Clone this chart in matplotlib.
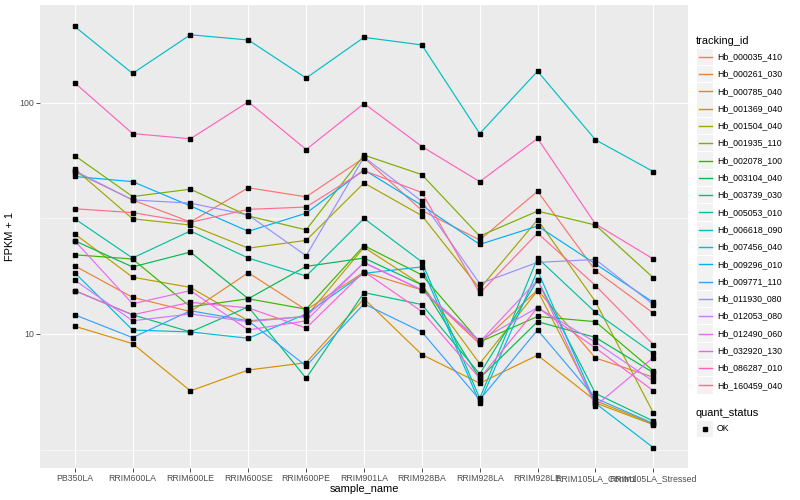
import numpy as np
import matplotlib
matplotlib.use('Agg')
import matplotlib.pyplot as plt
from matplotlib.patches import Rectangle

plt.rcParams['font.family'] = ['Liberation Sans', 'DejaVu Sans']

samples = ['PB350LA', 'RRIM600LA', 'RRIM600LE', 'RRIM600SE', 'RRIM600PE', 'RRIM901LA',
           'RRIM928BA', 'RRIM928LA', 'RRIM928LE', 'RRIM105LA_Control', 'RRIM105LA_Stressed']

# FPKM + 1, one list per gene
hb_000035_410 = [50.3, 38.0, 30.5, 42.9, 39.2, 57.8, 34.2, 25.5, 41.4, 18.8, 12.3]
hb_000261_030 = [19.7, 14.4, 12.5, 18.4, 12.7, 18.5, 15.5, 9.05, 15.5, 7.87, 6.50]
hb_000785_040 = [10.8, 9.08, 5.67, 6.98, 7.51, 14.2, 8.14, 6.12, 8.09, 5.14, 4.08]
hb_001369_040 = [27.1, 17.6, 15.9, 11.4, 11.9, 23.7, 16.3, 7.44, 15.4, 5.03, 4.05]
hb_001504_040 = [51.8, 31.5, 29.6, 23.5, 25.4, 45.0, 32.5, 15.7, 31.2, 13.8, 4.56]
hb_001935_110 = [59.1, 39.3, 42.3, 32.4, 28.2, 59.4, 48.9, 26.5, 34.0, 29.6, 17.5]
hb_002078_100 = [22.0, 21.1, 13.1, 14.2, 12.8, 24.1, 18.0, 9.23, 11.9, 11.3, 6.92]
hb_003104_040 = [25.3, 19.5, 22.6, 14.2, 19.6, 21.3, 16.3, 6.43, 11.3, 9.66, 6.80]
hb_003739_030 = [15.4, 12.1, 10.2, 13.1, 6.43, 15.1, 13.4, 6.71, 17.1, 5.53, 4.20]
hb_005053_010 = [31.5, 21.3, 27.9, 21.3, 17.8, 31.6, 20.5, 5.26, 21.3, 12.4, 8.23]
hb_006618_090 = [214, 134, 197, 187, 128, 192, 178, 73.6, 137, 69.2, 50.4]
hb_007456_040 = [18.4, 10.4, 10.2, 9.58, 12.2, 18.3, 19.5, 5.03, 18.8, 5.01, 3.22]
hb_009296_010 = [48.0, 45.6, 35.8, 27.8, 33.3, 51.3, 36.0, 24.4, 29.3, 20.1, 13.7]
hb_009771_110 = [12.1, 9.64, 12.6, 11.4, 7.27, 13.5, 10.2, 5.19, 10.4, 5.27, 4.10]
hb_011930_080 = [50.8, 38.0, 36.8, 32.7, 21.8, 58.2, 37.5, 16.5, 20.4, 21.0, 13.4]
hb_012053_080 = [17.1, 11.4, 12.2, 11.3, 11.9, 20.3, 15.5, 9.37, 13.0, 9.21, 6.24]
hb_012490_060 = [25.3, 13.5, 15.4, 10.4, 11.4, 20.4, 15.5, 9.23, 17.1, 4.88, 7.90]
hb_032920_130 = [15.4, 12.1, 13.7, 12.96, 10.6, 18.6, 12.5, 6.43, 13.0, 8.7, 5.68]
hb_086287_010 = [122, 73.6, 69.9, 101, 62.8, 99.3, 64.7, 45.6, 70.1, 29.9, 21.1]
hb_160459_040 = [34.8, 33.5, 30.4, 34.6, 35.4, 50.9, 40.9, 15.0, 27.3, 16.2, 9.0]

ids = ['Hb_000035_410', 'Hb_000261_030', 'Hb_000785_040', 'Hb_001369_040', 'Hb_001504_040',
       'Hb_001935_110', 'Hb_002078_100', 'Hb_003104_040', 'Hb_003739_030', 'Hb_005053_010',
       'Hb_006618_090', 'Hb_007456_040', 'Hb_009296_010', 'Hb_009771_110', 'Hb_011930_080',
       'Hb_012053_080', 'Hb_012490_060', 'Hb_032920_130', 'Hb_086287_010', 'Hb_160459_040']
series = [hb_000035_410, hb_000261_030, hb_000785_040, hb_001369_040, hb_001504_040,
          hb_001935_110, hb_002078_100, hb_003104_040, hb_003739_030, hb_005053_010,
          hb_006618_090, hb_007456_040, hb_009296_010, hb_009771_110, hb_011930_080,
          hb_012053_080, hb_012490_060, hb_032920_130, hb_086287_010, hb_160459_040]

# ggplot default hue palette for 20 levels
colores = ['#F8766D', '#EA8331', '#D89000', '#C09B00', '#A3A500', '#7CAE00', '#39B600',
           '#00BB4E', '#00BF7D', '#00C1A3', '#00BFC4', '#00BAE0', '#00B0F6', '#35A2FF',
           '#9590FF', '#C77CFF', '#E76BF3', '#FA62DB', '#FF62BC', '#FF6C91']

fig = plt.figure(figsize=(8, 5), dpi=100)
fig.set_facecolor('white')
ax = fig.add_axes([0.05, 0.064, 0.81, 0.926], facecolor='#EBEBEB')

x = np.arange(len(samples))
for vals, c in zip(series, colores):
    ax.plot(x, vals, color=c, lw=0.85, zorder=3)
for vals in series:
    ax.plot(x, vals, ls='none', marker='s', ms=2.2, color='black', zorder=4)

ax.set_yscale('log')
ax.set_yticks([10, 100])
ax.set_yticklabels(['10', '100'])
ax.set_yticks([10 ** 0.5, 10 ** 1.5], minor=True)
ax.yaxis.set_minor_formatter(matplotlib.ticker.NullFormatter())
ax.set_xticks(x)
ax.set_xticklabels(samples)
# limits last, set_yticks can widen them
ax.set_ylim(2.63, 265)
ax.set_xlim(-0.6, len(samples) - 0.4)

ax.grid(True, which='major', color='white', lw=0.85, zorder=0)
ax.grid(True, which='minor', axis='y', color='white', lw=0.4, zorder=0)
ax.set_axisbelow(True)
for s in ax.spines.values():
    s.set_visible(False)
ax.tick_params(which='major', length=2.7, width=0.6, color='#333333',
               labelsize=6.3, labelcolor='#4D4D4D', pad=1.5)
ax.tick_params(which='minor', length=0)

ax.set_xlabel('sample_name', fontsize=7.9, labelpad=1)
ax.set_ylabel('FPKM + 1', fontsize=7.9, labelpad=3)

# legends drawn by hand in pixel space, ggplot-style
lg = fig.add_axes([0, 0, 1, 1])
lg.set_xlim(0, 800)
lg.set_ylim(500, 0)
lg.axis('off')
lg.text(696, 40.5, 'tracking_id', fontsize=7.9, va='center', ha='left')
for i, (name, c) in enumerate(zip(ids, colores)):
    yy = 56.7 + i * 17.3
    lg.add_patch(Rectangle((697, yy - 8.2), 16, 16.4, facecolor='#F2F2F2', edgecolor='none'))
    lg.plot([698.5, 711.5], [yy, yy], color=c, lw=1.0)
    lg.text(717, yy, name, fontsize=6.3, va='center', ha='left')

lg.text(696, 412.5, 'quant_status', fontsize=7.9, va='center', ha='left')
lg.add_patch(Rectangle((697, 420.5), 16, 16.4, facecolor='#F2F2F2', edgecolor='none'))
lg.plot([705], [428.7], marker='s', ms=2.2, color='black')
lg.text(717, 428.7, 'OK', fontsize=6.3, va='center', ha='left')

fig.savefig('out.png', dpi=100)
